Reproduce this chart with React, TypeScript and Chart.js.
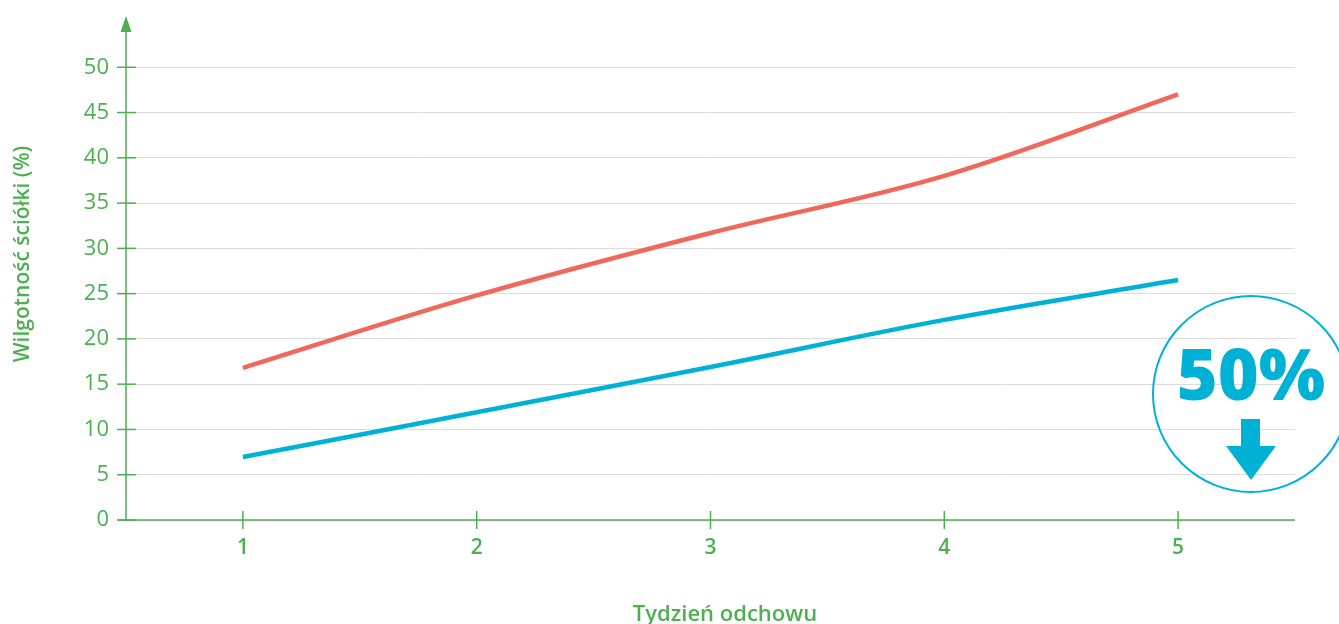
import React, { useEffect, useRef } from "react";
import { Chart, registerables } from "chart.js";

Chart.register(...registerables);

const weeks = [1, 2, 3, 4, 5];
const seriesRed = [16.8, 24.8, 31.7, 38.0, 47.0];
const seriesBlue = [6.95, 11.9, 16.9, 22.1, 26.5];
const yTickValues = [0, 5, 10, 15, 20, 25, 30, 35, 40, 45, 50];
const xTitle = "Tydzień odchowu";
const yTitle = "Wilgotność ściółki (%)";
const badgeText = "50%";

const GREEN = "#4caf50";
const RED = "#f0685a";
const BLUE = "#00b1d6";
const FONT = "'Open Sans', sans-serif";

const decorPlugin = {
  id: "decor",
  afterDraw(chart: any) {
    const { ctx, chartArea, scales } = chart;
    const xs = scales.x;
    const ys = scales.y;
    const axisX = chartArea.left;
    const axisY = ys.getPixelForValue(0);
    ctx.save();
    ctx.strokeStyle = GREEN;
    ctx.fillStyle = GREEN;
    ctx.lineWidth = 1.5;
    ctx.beginPath();
    ctx.moveTo(axisX, axisY);
    ctx.lineTo(axisX, 28);
    ctx.stroke();
    ctx.beginPath();
    ctx.moveTo(axisX, 16);
    ctx.lineTo(axisX - 5.5, 32);
    ctx.lineTo(axisX + 5.5, 32);
    ctx.closePath();
    ctx.fill();
    ctx.beginPath();
    ctx.moveTo(axisX - 9, axisY);
    ctx.lineTo(chartArea.right, axisY);
    ctx.stroke();
    yTickValues.forEach((v) => {
      const py = ys.getPixelForValue(v);
      ctx.beginPath();
      ctx.moveTo(axisX - 9, py);
      ctx.lineTo(axisX + 10, py);
      ctx.stroke();
    });
    weeks.forEach((w) => {
      const px = xs.getPixelForValue(w);
      ctx.beginPath();
      ctx.moveTo(px, axisY - 9);
      ctx.lineTo(px, axisY + 9);
      ctx.stroke();
    });
    ctx.fillStyle = GREEN;
    ctx.font = `600 22px ${FONT}`;
    ctx.textAlign = "center";
    ctx.textBaseline = "alphabetic";
    ctx.fillText(xTitle, 725, 621);
    ctx.font = `600 21px ${FONT}`;
    ctx.save();
    ctx.translate(29, 254);
    ctx.rotate(-Math.PI / 2);
    ctx.fillText(yTitle, 0, 0);
    ctx.restore();
    const cx = 1251;
    const cy = 394;
    ctx.strokeStyle = BLUE;
    ctx.lineWidth = 2;
    ctx.beginPath();
    ctx.arc(cx, cy, 98, 0, Math.PI * 2);
    ctx.stroke();
    ctx.fillStyle = BLUE;
    ctx.font = `800 70px ${FONT}`;
    ctx.textAlign = "center";
    ctx.textBaseline = "alphabetic";
    ctx.fillText(badgeText, cx, 400);
    ctx.fillRect(1241, 419, 19, 28);
    ctx.beginPath();
    ctx.moveTo(1226, 446);
    ctx.lineTo(1276, 446);
    ctx.lineTo(1251, 480);
    ctx.closePath();
    ctx.fill();
    ctx.restore();
  },
};

export default function App() {
  const ref = useRef<HTMLCanvasElement>(null);
  useEffect(() => {
    if (!ref.current) return;
    const chart = new Chart(ref.current, {
      type: "line",
      data: {
        datasets: [
          {
            data: weeks.map((w, i) => ({ x: w, y: seriesRed[i] })),
            borderColor: RED,
            borderWidth: 4.5,
            pointRadius: 0,
            tension: 0.35,
            fill: false,
          },
          {
            data: weeks.map((w, i) => ({ x: w, y: seriesBlue[i] })),
            borderColor: BLUE,
            borderWidth: 4.5,
            pointRadius: 0,
            tension: 0.35,
            fill: false,
          },
        ],
      },
      options: {
        animation: false,
        responsive: false,
        layout: { padding: { left: 0, right: 44, top: 22, bottom: 0 } },
        plugins: { legend: { display: false }, tooltip: { enabled: false } },
        scales: {
          x: {
            type: "linear",
            min: 0.5,
            max: 5.5,
            afterBuildTicks: (s: any) => {
              s.ticks = weeks.map((w) => ({ value: w }));
            },
            afterFit: (s: any) => {
              s.height = 104;
              s.paddingLeft = 0;
              s.paddingRight = 0;
              s.paddingTop = 0;
              s.paddingBottom = 0;
            },
            grid: { display: false, drawTicks: false },
            border: { display: false },
            ticks: {
              color: GREEN,
              padding: 15,
              font: { family: FONT, size: 21, weight: "600" },
              callback: (v: any) => String(v),
            },
          },
          y: {
            type: "linear",
            min: 0,
            max: 55,
            afterBuildTicks: (s: any) => {
              s.ticks = yTickValues.map((v) => ({ value: v }));
            },
            afterFit: (s: any) => {
              s.width = 126;
              s.paddingLeft = 0;
              s.paddingRight = 0;
              s.paddingTop = 0;
              s.paddingBottom = 0;
            },
            grid: { color: "#dcdcdc", lineWidth: 1, drawTicks: false },
            border: { display: false },
            ticks: {
              color: GREEN,
              padding: 17,
              font: { family: FONT, size: 22 },
            },
          },
        },
      },
      plugins: [decorPlugin],
    } as any);
    return () => chart.destroy();
  }, []);
  return (
    <div style={{ position: "absolute", left: 0, top: 0, width: 1339, height: 624 }}>
      <canvas ref={ref} width={1339} height={624} style={{ display: "block" }} />
    </div>
  );
}
